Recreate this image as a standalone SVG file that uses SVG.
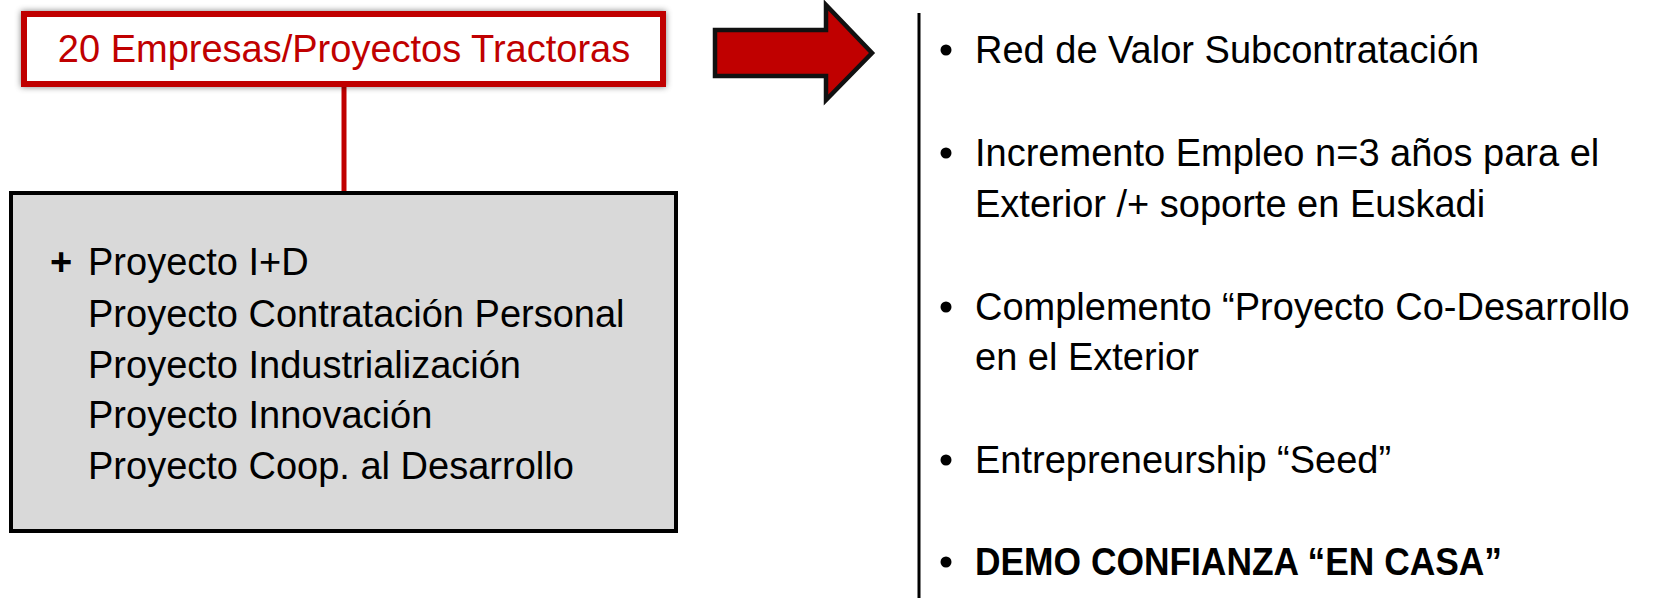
<svg xmlns="http://www.w3.org/2000/svg" width="1659" height="598" viewBox="0 0 1659 598">
<style>
.t{font-family:"Liberation Sans",Arial,sans-serif;font-size:38px;fill:#000}
.r{fill:#c00000}
.b{font-weight:bold}
</style>
<defs>
<filter id="sh" x="-10%" y="-30%" width="120%" height="160%">
<feGaussianBlur in="SourceAlpha" stdDeviation="3"/>
<feOffset dx="0" dy="0" result="o"/>
<feFlood flood-color="#000" flood-opacity="0.5"/>
<feComposite in2="o" operator="in"/>
<feMerge><feMergeNode/><feMergeNode in="SourceGraphic"/></feMerge>
</filter>
</defs>
<rect width="1659" height="598" fill="#fff"/>
<g id="connectors">
<line x1="344" y1="86" x2="344" y2="193" stroke="#c00000" stroke-width="5"/>
<path id="arrow" d="M715,30 L826,30 L826,5 L872,53 L826,100 L826,76 L715,76 Z" fill="#c00000" stroke="#111" stroke-width="4.5" stroke-linejoin="miter"/>
<line x1="919" y1="13" x2="919" y2="598" stroke="#000" stroke-width="3"/>
</g>
<g id="top-node">
<rect x="24" y="14" width="639" height="70" fill="#fff" stroke="#c00000" stroke-width="6" filter="url(#sh)"/>
<text class="t r" x="344" y="62" text-anchor="middle">20 Empresas/Proyectos Tractoras</text>
</g>
<g id="projects-node">
<rect x="11" y="193" width="665" height="338" fill="#d9d9d9" stroke="#000" stroke-width="4"/>
<text class="t b" x="50" y="275">+</text>
<text class="t" x="88" y="275">Proyecto I+D</text>
<text class="t" x="88" y="327">Proyecto Contratación Personal</text>
<text class="t" x="88" y="378">Proyecto Industrialización</text>
<text class="t" x="88" y="428">Proyecto Innovación</text>
<text class="t" x="88" y="479">Proyecto Coop. al Desarrollo</text>
</g>
<g id="results-node">
<circle cx="946" cy="50" r="5.5"/>
<text class="t" x="975" y="63">Red de Valor Subcontratación</text>
<circle cx="946" cy="153" r="5.5"/>
<text class="t" x="975" y="166">Incremento Empleo n=3 años para el</text>
<text class="t" x="975" y="217">Exterior /+ soporte en Euskadi</text>
<circle cx="946" cy="307" r="5.5"/>
<text class="t" x="975" y="320">Complemento “Proyecto Co-Desarrollo</text>
<text class="t" x="975" y="370">en el Exterior</text>
<circle cx="946" cy="460" r="5.5"/>
<text class="t" x="975" y="473">Entrepreneurship “Seed”</text>
<circle cx="946" cy="562" r="5.5"/>
<text class="t b" x="975" y="575" textLength="527" lengthAdjust="spacingAndGlyphs">DEMO CONFIANZA “EN CASA”</text>
</g>
</svg>
